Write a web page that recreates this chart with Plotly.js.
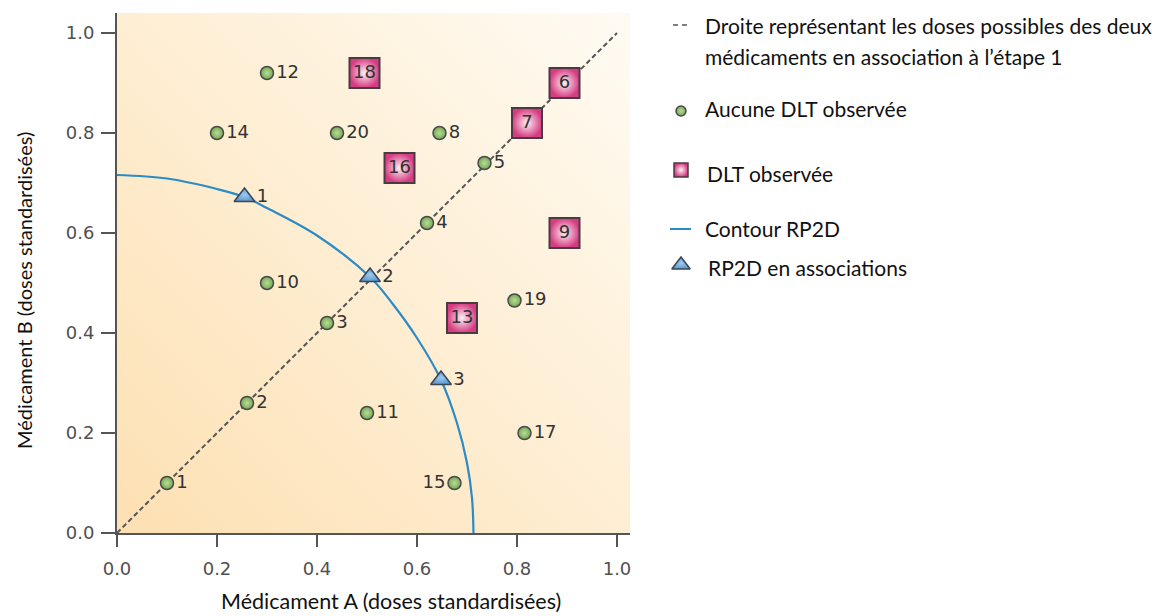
<!DOCTYPE html>
<html>
<head>
<meta charset="utf-8">
<script src="https://cdn.plot.ly/plotly-3.0.1.min.js"></script>
<style>html,body{margin:0;padding:0;background:#fff;}#chart{width:1170px;height:616px;}</style>
</head>
<body>
<div id="chart"></div>
<script>
// ---- Data ----
// Patients without DLT (green circles)
var noDltX = [0.10, 0.26, 0.42, 0.62, 0.735, 0.645, 0.30, 0.50, 0.30, 0.20, 0.675, 0.815, 0.795, 0.44];
var noDltY = [0.10, 0.26, 0.42, 0.62, 0.74, 0.80, 0.50, 0.24, 0.92, 0.80, 0.10, 0.20, 0.465, 0.80];
var noDltLabels = ["1", "2", "3", "4", "5", "8", "10", "11", "12", "14", "15", "17", "19", "20"];
// Patients with DLT (pink squares)
var dltX = [0.895, 0.82, 0.895, 0.69, 0.565, 0.495];
var dltY = [0.90, 0.82, 0.60, 0.43, 0.73, 0.92];
var dltLabels = ["6", "7", "9", "13", "16", "18"];
// RP2D of combinations (blue triangles)
var rp2dX = [0.255, 0.506, 0.648];
var rp2dY = [0.672, 0.512, 0.306];
var rp2dLabels = ["1", "2", "3"];
// RP2D contour
var contourX = [0.0, 0.10, 0.20, 0.255, 0.30, 0.40, 0.506, 0.55, 0.60, 0.648, 0.68, 0.70, 0.710, 0.713];
var contourY = [0.716, 0.709, 0.688, 0.672, 0.650, 0.595, 0.512, 0.460, 0.390, 0.306, 0.220, 0.140, 0.070, 0.0];
// Stage-1 dose line
var diagX = [0.0, 1.0];
var diagY = [0.0, 1.0];
// Tick values
var tickVals = [0.0, 0.2, 0.4, 0.6, 0.8, 1.0];
var tickText = ["0.0", "0.2", "0.4", "0.6", "0.8", "1.0"];
// Legend entries
var legendTexts = [
  "Droite représentant les doses possibles des deux",
  "médicaments en association à l’étape 1",
  "Aucune DLT observée",
  "DLT observée",
  "Contour RP2D",
  "RP2D en associations"
];
var xTitle = "Médicament A (doses standardisées)";
var yTitle = "Médicament B (doses standardisées)";

// ---- Layout geometry ----
var W = 1170, H = 616;
var plotL = 117, plotR = 630, plotT = 13, plotB = 533;
var xMax = 1.026, yMax = 1.04;

var tickFont = {family: "DejaVu Sans", size: 18, color: "#505050"};
var labelFont = {family: "DejaVu Sans", size: 18, color: "#333"};
var legFont = {family: "Lato", size: 21, color: "#111"};

var circleMarker = {symbol: "circle", size: 13, color: "#74a852", gradient: {type: "radial", color: "#b8dc98"}, line: {color: "#4a4a4a", width: 1.5}};
var squareMarker = {symbol: "square", size: 30, color: "#d63c82", gradient: {type: "radial", color: "#fdf0f5"}, line: {color: "#4b3a42", width: 2}};
var triMarker = {symbol: "triangle-up", size: 18, color: "#5d9ad0", gradient: {type: "radial", color: "#9ccaee"}, line: {color: "#3b4654", width: 1.5}};

var noDltPos = noDltLabels.map(function (l) { return l === "15" ? "middle left" : "middle right"; });

var traces = [
  {x: diagX, y: diagY, mode: "lines", line: {color: "#555", width: 2, dash: "5px,3px"}, hoverinfo: "skip", showlegend: false},
  {x: contourX, y: contourY, mode: "lines", line: {color: "#2a8bc6", width: 2.2, shape: "spline"}, hoverinfo: "skip", showlegend: false},
  {x: noDltX, y: noDltY, text: noDltLabels, mode: "markers+text", textposition: noDltPos, textfont: labelFont, marker: circleMarker, showlegend: false},
  {x: dltX, y: dltY, text: dltLabels, mode: "markers+text", textposition: "middle center", textfont: labelFont, marker: squareMarker, showlegend: false},
  {x: rp2dX, y: rp2dY, text: rp2dLabels, mode: "markers+text", textposition: "middle right", textfont: labelFont, marker: triMarker, showlegend: false},
  // legend symbols on a pixel overlay axis
  {x: [681], y: [111], xaxis: "x2", yaxis: "y2", mode: "markers", marker: Object.assign({}, circleMarker, {size: 10}), hoverinfo: "skip", showlegend: false},
  {x: [681], y: [170], xaxis: "x2", yaxis: "y2", mode: "markers", marker: Object.assign({}, squareMarker, {size: 14, line: {color: "#4b3a42", width: 1.5}}), hoverinfo: "skip", showlegend: false},
  {x: [681], y: [265], xaxis: "x2", yaxis: "y2", mode: "markers", marker: Object.assign({}, triMarker, {size: 16}), hoverinfo: "skip", showlegend: false}
];

var bgSvg = '<svg xmlns="http://www.w3.org/2000/svg" width="100" height="100" preserveAspectRatio="none">' +
  '<defs><linearGradient id="g" x1="0" y1="1" x2="1" y2="0">' +
  '<stop offset="0" stop-color="#fde0b2"/><stop offset="0.5" stop-color="#feeed3"/><stop offset="1" stop-color="#fffbf3"/>' +
  '</linearGradient></defs><rect width="100" height="100" fill="url(#g)"/></svg>';

function px(x) { return x / W; }
function py(y) { return 1 - y / H; }

var legY = [25, 56, 108, 173, 229, 267];
var legX = [703, 703, 703, 705, 703, 706];
var annotations = legendTexts.map(function (t, i) {
  return {text: t, xref: "paper", yref: "paper", x: px(legX[i]), y: py(legY[i]), xanchor: "left", yanchor: "middle", showarrow: false, font: legFont};
});
annotations.push({text: xTitle, xref: "paper", yref: "paper", x: px(391), y: py(601), xanchor: "center", yanchor: "middle", showarrow: false, font: {family: "Lato", size: 21.5, color: "#111"}});
annotations.push({text: yTitle, xref: "paper", yref: "paper", x: px(24), y: py(291), xanchor: "center", yanchor: "middle", textangle: -90, showarrow: false, font: {family: "Lato", size: 20, color: "#111"}});

var layout = {
  width: W, height: H,
  margin: {l: 0, r: 0, t: 0, b: 0, pad: 0},
  paper_bgcolor: "#ffffff",
  plot_bgcolor: "rgba(0,0,0,0)",
  showlegend: false,
  xaxis: {
    domain: [plotL / W, plotR / W], range: [0, xMax], automargin: false,
    tickvals: tickVals, ticktext: tickText, tickfont: tickFont,
    showline: true, linecolor: "#555", linewidth: 2, mirror: false,
    ticks: "outside", ticklen: 12, tickwidth: 2, tickcolor: "#555",
    ticklabelstandoff: 6,
    showgrid: false, zeroline: false, fixedrange: true
  },
  yaxis: {
    domain: [1 - plotB / H, 1 - plotT / H], range: [0, yMax], automargin: false,
    tickvals: tickVals, ticktext: tickText, tickfont: tickFont,
    showline: true, linecolor: "#555", linewidth: 2,
    ticks: "outside", ticklen: 14, tickwidth: 2, tickcolor: "#555",
    ticklabelstandoff: 3,
    showgrid: false, zeroline: false, fixedrange: true
  },
  xaxis2: {domain: [0, 1], range: [0, W], visible: false, fixedrange: true, anchor: "y2"},
  yaxis2: {domain: [0, 1], range: [H, 0], visible: false, fixedrange: true, anchor: "x2"},
  images: [{
    source: "data:image/svg+xml;charset=utf-8," + encodeURIComponent(bgSvg),
    xref: "x", yref: "y", x: 0, y: yMax, sizex: xMax, sizey: yMax,
    sizing: "stretch", xanchor: "left", yanchor: "top", layer: "below"
  }],
  shapes: [
    {type: "line", xref: "paper", yref: "paper", x0: px(673), x1: px(690), y0: py(25), y1: py(25), line: {color: "#555", width: 1.5, dash: "5px,4px"}},
    {type: "line", xref: "paper", yref: "paper", x0: px(670), x1: px(691), y0: py(229), y1: py(229), line: {color: "#2a8bc6", width: 2}}
  ],
  annotations: annotations
};

Plotly.newPlot("chart", traces, layout, {displayModeBar: false, staticPlot: true});
</script>
</body>
</html>
